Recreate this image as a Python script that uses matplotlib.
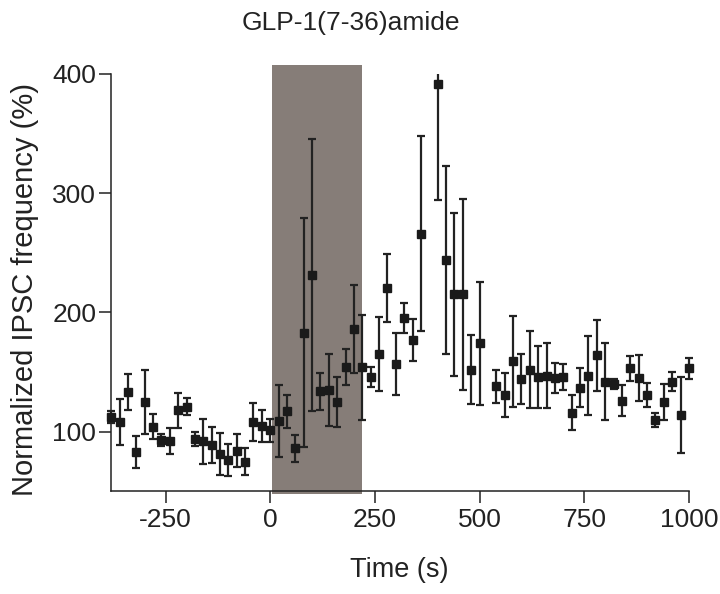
import matplotlib
matplotlib.use('Agg')
import matplotlib.pyplot as plt
from matplotlib.patches import Rectangle

plt.rcParams['font.family'] = ['Liberation Sans', 'DejaVu Sans']
plt.rcParams['axes.unicode_minus'] = False

# time points (s), mean normalized frequency (%) and error
times = [-380, -360, -340, -320, -300, -280, -260, -240, -220, -200,
         -180, -160, -140, -120, -100, -80, -60, -40, -20, 0,
         20, 40, 60, 80, 100, 120, 140, 160, 180, 200,
         220, 240, 260, 280, 300, 320, 340, 360,
         400, 420, 440, 460, 480, 500,
         540, 560, 580, 600, 620, 640, 660, 680, 700, 720,
         740, 760, 780, 800, 820, 840, 860, 880, 900, 920,
         940, 960, 980, 1000]
freq = [112, 108, 133, 83, 125, 104, 93, 92, 118, 121,
        94, 92, 89, 81, 76, 84, 75, 108, 105, 101,
        109, 117, 86, 183, 231, 134, 135, 125, 154, 186,
        154, 146, 165, 220, 157, 195, 177, 266,
        391, 244, 215, 215, 152, 174,
        138, 131, 159, 144, 152, 146, 147, 145, 146, 116,
        137, 147, 164, 142, 140, 126, 153, 145, 131, 110,
        125, 142, 114, 153]
err = [5, 19.5, 15, 13.5, 27, 10.5, 5, 11, 14.5, 7,
       6, 19, 15, 17.5, 13.5, 14, 11.5, 16, 13.5, 9.5,
       30, 14, 11, 96, 114, 15.5, 30.5, 21, 15, 36.5,
       44, 8.5, 31, 28.5, 26, 12.5, 17.5, 82,
       97, 79, 68.5, 80, 29, 51.5,
       14, 18.5, 38, 21, 32.5, 26, 27, 12.5, 11, 15,
       16.5, 33, 29.5, 32.5, 4, 13, 10.5, 19, 10, 6,
       15, 8, 32, 9]

drug_start, drug_end = 5, 220

fig = plt.figure(figsize=(7.2, 5.94), dpi=100)
ax = fig.add_axes([0.1538, 0.174, 0.803, 0.702])

ax.axvspan(drug_start, drug_end, ymin=-0.007, ymax=1.02, color='#867d78',
           lw=0, clip_on=False, zorder=1)

eb = ax.errorbar(times, freq, yerr=err, fmt='s', color='#1a1a1a', ms=5.4,
                 ecolor='#222222', elinewidth=1.6, capsize=3.1, capthick=1.6,
                 zorder=3)
# let markers overhang the left spine but keep the top clipped at 400
clip = Rectangle((-0.05, -0.05), 1.1, 1.05, transform=ax.transAxes)
for a in eb.get_children():
    a.set_clip_path(clip)

ax.set_xlim(-381, 1000)
ax.set_ylim(50.6, 400)
ax.set_xticks([-250, 0, 250, 500, 750, 1000])
ax.set_yticks([100, 200, 300, 400])

for s in ['top', 'right']:
    ax.spines[s].set_visible(False)
for s in ['left', 'bottom']:
    ax.spines[s].set_linewidth(1.1)
    ax.spines[s].set_color('#222222')

ax.tick_params(direction='out', length=8.5, width=1.1, labelsize=19,
               colors='#222222')
ax.tick_params(axis='y', pad=2)
ax.tick_params(axis='x', pad=4)

fig.text(0.4875, 0.961, 'GLP-1(7-36)amide', fontsize=19, ha='center',
         va='center', color='#222222')
fig.text(0.035, 0.512, 'Normalized IPSC frequency (%)', fontsize=21,
         rotation=90, ha='center', va='center', color='#222222')
fig.text(0.554, 0.040, 'Time (s)', fontsize=19.5, ha='center', va='center',
         color='#222222')

fig.savefig('out.png', dpi=100)
